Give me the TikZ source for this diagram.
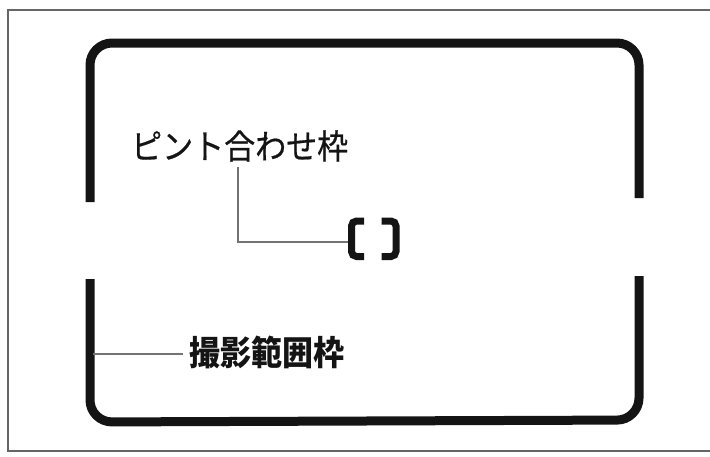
\documentclass[tikz,border=0pt]{standalone}
\usepackage{fontspec}
\usepackage{graphicx}
\newfontfamily\cjk[FakeBold=0.6]{Noto Sans CJK JP}
\newfontfamily\cjkbold{Noto Sans CJK JP}
\begin{document}
\begin{tikzpicture}[x=1pt,y=-1pt,
  framestroke/.style={draw=black!92, line width=9pt, line cap=butt, rounded corners=22pt},
  bracketstroke/.style={draw=black!92, line width=7pt, line cap=butt, rounded corners=5pt},
  leader/.style={draw=black!55, line width=1.3pt},
  border/.style={draw=black!60, line width=1.2pt},
  label/.style={inner sep=0pt, text=black!92}]
\useasboundingbox (0,0) rectangle (710,456);
\fill[white] (0,0) rectangle (710,456);
% outer thin border (open at right)
\draw[border] (710,10) -- (8,10) -- (8,451) -- (710,451);
% viewfinder frame
\draw[framestroke] (90,202) -- (90,43) -- (639,43) -- (639,198);
\draw[framestroke] (90,279) -- (90,422) -- (639,420) -- (639,276);
% focusing brackets
\draw[bracketstroke] (364,221) -- (351.5,221) -- (351.5,256.5) -- (364,256.5);
\draw[bracketstroke] (381.5,221) -- (396,221) -- (396,256.5) -- (381.5,256.5);
\coordinate (fb) at (348,242);
\coordinate (fl) at (93,354);
% labels
\node[label, anchor=west] (t1) at (131,146) {\scalebox{1.0}[1.1]{\cjk\fontsize{31pt}{34pt}\selectfont ピント合わせ枠}};
\node[label, anchor=west] (t2) at (189,352) {\scalebox{1.0}[1.1]{\cjkbold\bfseries\fontsize{31pt}{34pt}\selectfont 撮影範囲枠}};
\coordinate (t1a) at (238,167);
% leaders
\draw[leader] (t1a) |- (fb);
\draw[leader] (fl) -- ([xshift=-6pt]t2.west |- fl);
\end{tikzpicture}
\end{document}
